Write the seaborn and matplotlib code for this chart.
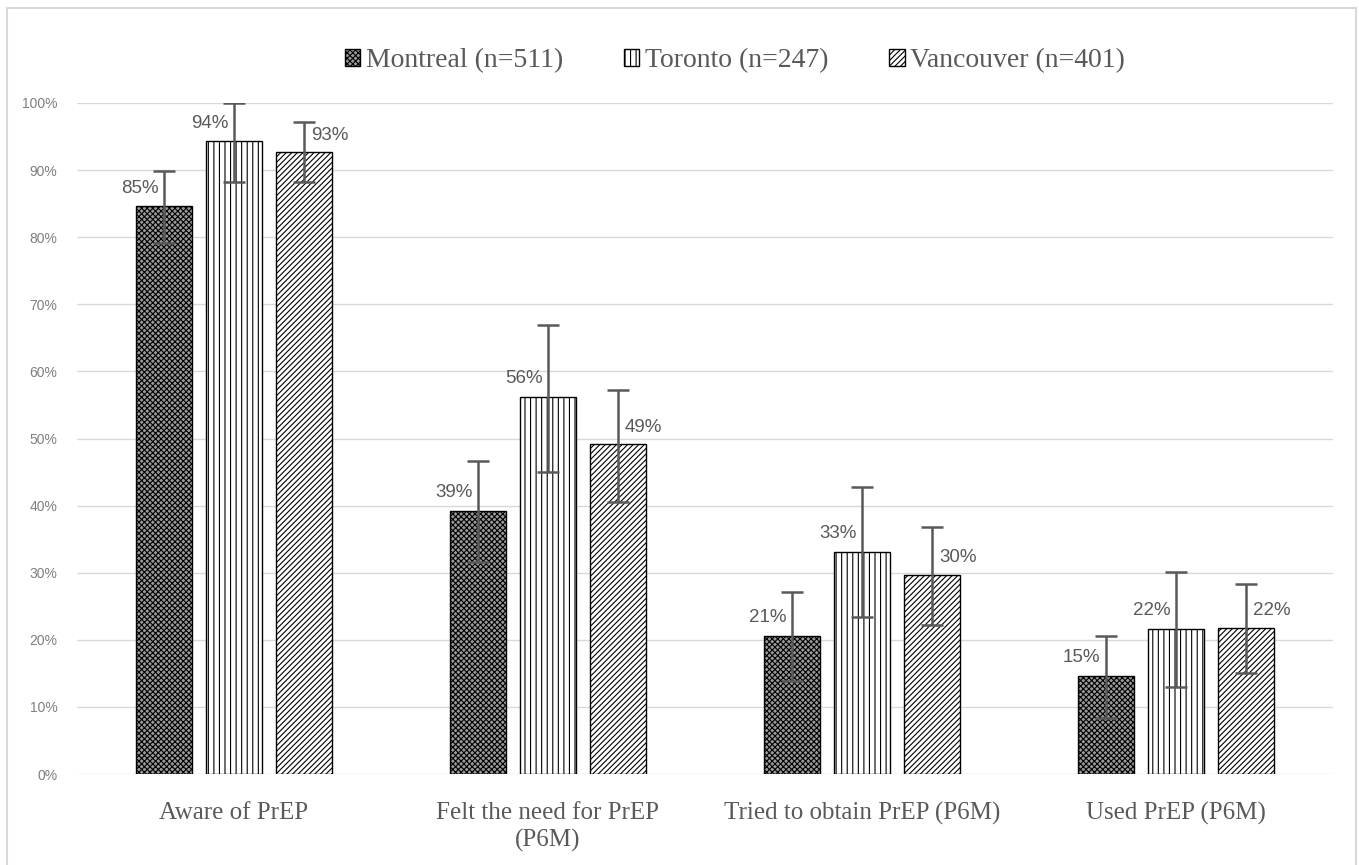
import matplotlib
matplotlib.use("Agg")
import numpy as np
import pandas as pd
import matplotlib.pyplot as plt
import seaborn as sns
from matplotlib.patches import Patch, Rectangle

# valeurs (en %)
categories = ["Aware of PrEP", "Felt the need for PrEP\n(P6M)",
              "Tried to obtain PrEP (P6M)", "Used PrEP (P6M)"]
cities = ["Montreal (n=511)", "Toronto (n=247)", "Vancouver (n=401)"]

montreal = [84.6, 39.2, 20.6, 14.6]
toronto = [94.3, 56.2, 33.1, 21.6]
vancouver = [92.7, 49.2, 29.7, 21.8]

montreal_lo = [79.1, 31.6, 13.9, 8.4]
montreal_hi = [89.9, 46.6, 27.1, 20.6]
toronto_lo = [88.3, 45.0, 23.4, 13.0]
toronto_hi = [100.0, 66.9, 42.8, 30.1]
vancouver_lo = [88.2, 40.5, 22.2, 15.1]
vancouver_hi = [97.2, 57.2, 36.8, 28.3]

values = [montreal, toronto, vancouver]
lows = [montreal_lo, toronto_lo, vancouver_lo]
highs = [montreal_hi, toronto_hi, vancouver_hi]

df = pd.DataFrame({
    "category": categories * 3,
    "city": [c for c in cities for _ in categories],
    "value": montreal + toronto + vancouver,
})

faces = {cities[0]: "#9a9a9a", cities[1]: "white", cities[2]: "white"}
hatches = ["xxxxxx", "|||", "//////"]
grey = "#595959"

sns.set_theme(style="white")
plt.rcParams["font.family"] = ["Liberation Sans", "DejaVu Sans"]
plt.rcParams["hatch.linewidth"] = 0.8

fig = plt.figure(figsize=(13.59, 8.65), dpi=100)
ax = fig.add_axes([77 / 1359, 91 / 865, 1256 / 1359, 671 / 865])

sns.barplot(data=df, x="category", y="value", hue="city", order=categories,
            hue_order=cities, palette=faces, width=0.67, gap=0.2,
            edgecolor="black", linewidth=1, errorbar=None, legend=False, ax=ax)

bar_conts = list(ax.containers)
for i, cont in enumerate(bar_conts):
    for bar in cont:
        bar.set_hatch(hatches[i])
    xs = np.array([b.get_x() + b.get_width() / 2 for b in cont])
    ys = np.array([b.get_height() for b in cont])
    lo = np.array(lows[i])
    hi = np.array(highs[i])
    ax.errorbar(xs, ys, yerr=[ys - lo, hi - ys], fmt="none", ecolor=grey,
                elinewidth=1.8, capsize=8, capthick=1.8, zorder=5)
    for x, y in zip(xs, ys):
        if i < 2:
            ax.annotate(f"{y:.0f}%", (x, y), xytext=(-4, 7), textcoords="offset points",
                        ha="right", va="bottom", fontsize=13.5, color=grey)
        else:
            ax.annotate(f"{y:.0f}%", (x, y), xytext=(5, 6), textcoords="offset points",
                        ha="left", va="bottom", fontsize=13.5, color=grey)

ax.set_xlim(-0.5, 3.5)
ax.set_ylim(0, 100)
ax.set_yticks(range(0, 101, 10))
ax.set_yticklabels([f"{t}%" for t in range(0, 101, 10)], fontsize=10, color="#7f7f7f")
ax.set_xticks(range(len(categories)))
ax.set_xticklabels(categories, fontfamily="Liberation Serif", fontsize=18,
                   color=grey, linespacing=1.3)
ax.tick_params(axis="y", length=0, pad=14)
ax.tick_params(axis="x", length=0, pad=20)
ax.yaxis.grid(True, color="#d9d9d9", linewidth=1)
ax.set_axisbelow(True)
ax.set_xlabel("")
ax.set_ylabel("")
for s in ax.spines.values():
    s.set_visible(False)

handles = [Patch(facecolor=faces[c], edgecolor="black", hatch=h, label=c)
           for c, h in zip(cities, hatches)]
fig.legend(handles=handles, loc="center", bbox_to_anchor=(735 / 1359, 1 - 61 / 865),
           ncol=3, frameon=False, prop={"family": "Liberation Serif", "size": 20},
           handlelength=0.55, handleheight=0.55, handletextpad=0.2,
           columnspacing=2.2, labelcolor=grey)

fig.add_artist(Rectangle((7 / 1359, -0.02), 1349 / 1359, 1.02 - 8 / 865,
                         transform=fig.transFigure, fill=False,
                         edgecolor="#d9d9d9", linewidth=1.5))

fig.savefig("out.png", dpi=100)
